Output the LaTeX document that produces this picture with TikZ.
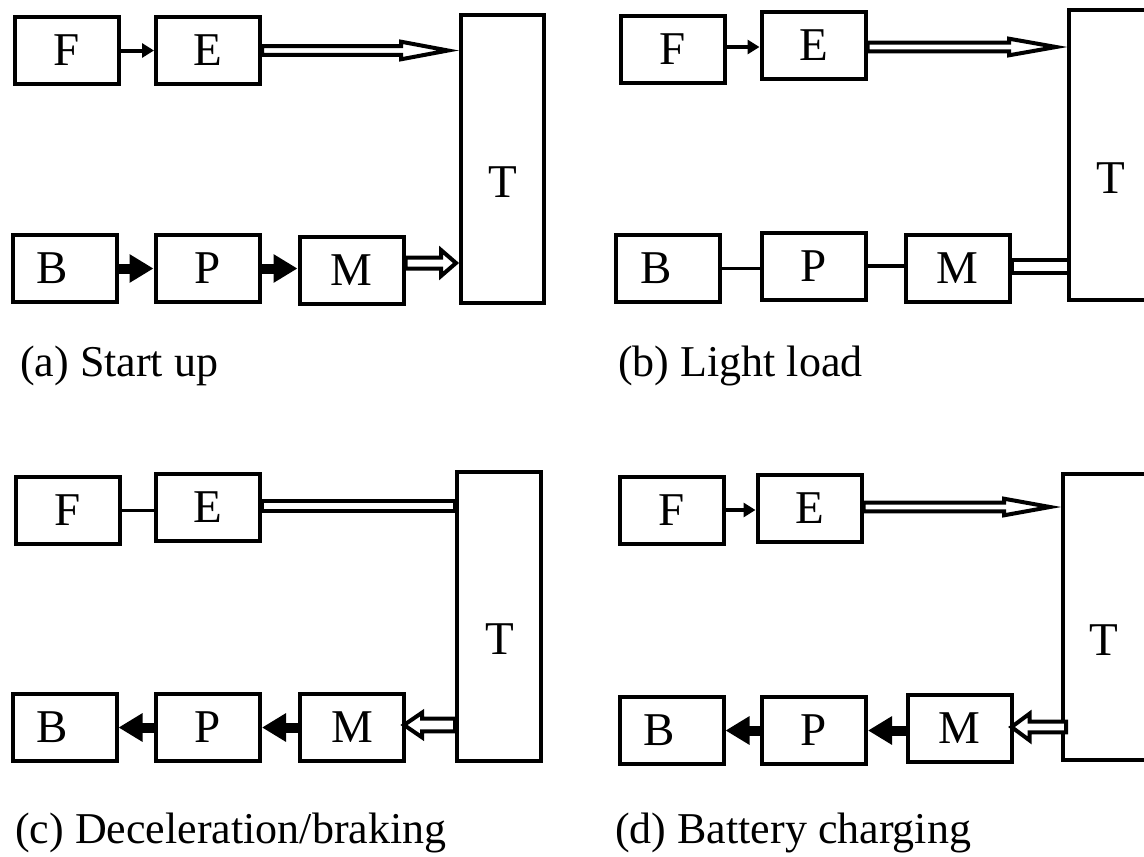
\documentclass[tikz,border=0pt]{standalone}
\usepackage{fontspec}
\setmainfont{Liberation Serif}
\usetikzlibrary{arrows.meta,calc}
\tikzset{
  box/.style={draw, line width=4pt, minimum width=104pt, minimum height=67pt, inner sep=0pt, font=\fontsize{47}{47}\selectfont},
  tbox/.style={draw, line width=4pt, minimum width=83pt, inner sep=0pt},
  boxtext/.style={font=\fontsize{47}{47}\selectfont, inner sep=0pt},
  caption/.style={font=\fontsize{44}{44}\selectfont, anchor=base west, inner sep=0pt},
  thinarrow/.style={line width=4pt, -{Triangle[length=12pt,width=14pt]}},
  thinline/.style={line width=3.5pt},
  thickarrow/.style={line width=10pt, -{Triangle[length=24pt,width=27pt]}},
  hollow/.style={line width=4pt, fill=white, line join=miter},
}
\newcommand{\hollowarr}[5]{%
  \draw[hollow] let \p1=#1, \p2=#2 in
  ({\x1},{\y1+#3}) -- ({\x2-(#5)},{\y1+#3}) -- ({\x2-(#5)},{\y1+#4}) -- ({\x2},{\y1})
  -- ({\x2-(#5)},{\y1-#4}) -- ({\x2-(#5)},{\y1-#3}) -- ({\x1},{\y1-#3}) -- cycle;}
\begin{document}
\begin{tikzpicture}[x=1pt,y=-1pt]
\useasboundingbox (0,0) rectangle (1144,857);
\fill[white] (0,0) rectangle (1144,857);

% ---------- (a) Start up ----------
\node[box] (Fa) at (67,50.5) {F};
\node[box] (Ea) at (208,50.5) {E};
\node[tbox, minimum height=288pt] (Ta) at (502.5,159) {};
\node[boxtext] (TaL) at (503,182) {T};
\node[box, label={[boxtext,xshift=-12pt]center:B}] (Ba) at (64.5,268.5) {};
\node[box] (Pa) at (207.5,268.5) {P};
\node[box] (Ma) at (351.5,270) {M};
\draw[thinarrow] (Fa) -- (Ea);
\hollowarr{(Ea.east)}{($(Ta.west)+(-11,0)$)}{4.3pt}{8.8pt}{47pt}
\draw[thickarrow] (Ba) -- (Pa);
\draw[thickarrow] (Pa.east) -- (Pa.east -| Ma.west);
\hollowarr{($(Ma.east)+(0,-7)$)}{($(Ta.west)+(-3,0)$)}{5.5pt}{13pt}{15pt}
\node[caption] (capa) at (20,376) {(a) Start up};

% ---------- (b) Light load ----------
\node[box] (Fb) at (672.5,49) {F};
\node[box] (Eb) at (813.5,45.5) {E};
\node[tbox, minimum height=290pt] (Tb) at (1110.5,155) {};
\node[boxtext] (TbL) at (1111,178) {T};
\node[box, label={[boxtext,xshift=-12pt]center:B}] (Bb) at (668,268.5) {};
\node[box] (Pb) at (813.5,266) {P};
\node[box] (Mb) at (957.5,268.5) {M};
\draw[thinarrow] ($(Fb.east)+(0,-2)$) -- ($(Fb.east -| Eb.west)+(0,-2)$);
\hollowarr{($(Eb.east)+(0,1.5)$)}{($(Tb.west)+(-11,0)$)}{4.3pt}{8.3pt}{47pt}
\draw[thinline] (Bb.east) -- (Bb.east -| Pb.west);
\draw[thinline] (Pb.east) -- (Pb.east -| Mb.west);
\draw[hollow] ($(Mb.east)+(0,-8.5)$) rectangle ($(Mb.east -| Tb.west)+(2,4.5)$);
\node[caption] (capb) at (618,376) {(b) Light load};

% ---------- (c) Deceleration/braking ----------
\node[box] (Fc) at (67.5,510.5) {F};
\node[box] (Ec) at (208,507.5) {E};
\node[tbox, minimum width=84pt, minimum height=289pt] (Tc) at (499,616.5) {};
\node[boxtext] (TcL) at (500,639) {T};
\node[box, label={[boxtext,xshift=-12pt]center:B}] (Bc) at (64.5,727.5) {};
\node[box] (Pc) at (208,727.5) {P};
\node[box] (Mc) at (352,727.5) {M};
\draw[thinline] (Fc.east) -- (Fc.east -| Ec.west);
\draw[hollow] ($(Ec.east)+(0,-6.5)$) rectangle ($(Ec.east -| Tc.west)+(0,3.5)$);
\draw[thickarrow] (Pc) -- (Bc);
\draw[thickarrow] (Mc) -- (Pc);
\hollowarr{($(Mc.east -| Tc.west)+(0,-2.5)$)}{($(Mc.east)+(-2,0)$)}{6.3pt}{12.3pt}{-18pt}
\node[caption] (capc) at (15,843) {(c) Deceleration/braking};

% ---------- (d) Battery charging ----------
\node[box] (Fd) at (671.5,510) {F};
\node[box] (Ed) at (809.5,508) {E};
\node[tbox, minimum height=286pt] (Td) at (1104.5,617) {};
\node[boxtext] (TdL) at (1104,640) {T};
\node[box, label={[boxtext,xshift=-12pt]center:B}] (Bd) at (671.5,730.5) {};
\node[box] (Pd) at (814,730.5) {P};
\node[box] (Md) at (959.5,728) {M};
\draw[thinarrow] (Fd.east) -- (Fd.east -| Ed.west);
\hollowarr{($(Ed.east)+(0,-1)$)}{($(Td.west)+(-11,0)$)}{4.3pt}{8.3pt}{46pt}
\draw[thickarrow] (Pd) -- (Bd);
\draw[thickarrow] (Md.west |- Pd.east) -- (Pd.east);
\hollowarr{($(Md.east -| Td.west)+(5,-1)$)}{($(Md.east)+(-2,0)$)}{5.3pt}{13.3pt}{-18pt}
\node[caption] (capd) at (615,843) {(d) Battery charging};
\end{tikzpicture}
\end{document}
